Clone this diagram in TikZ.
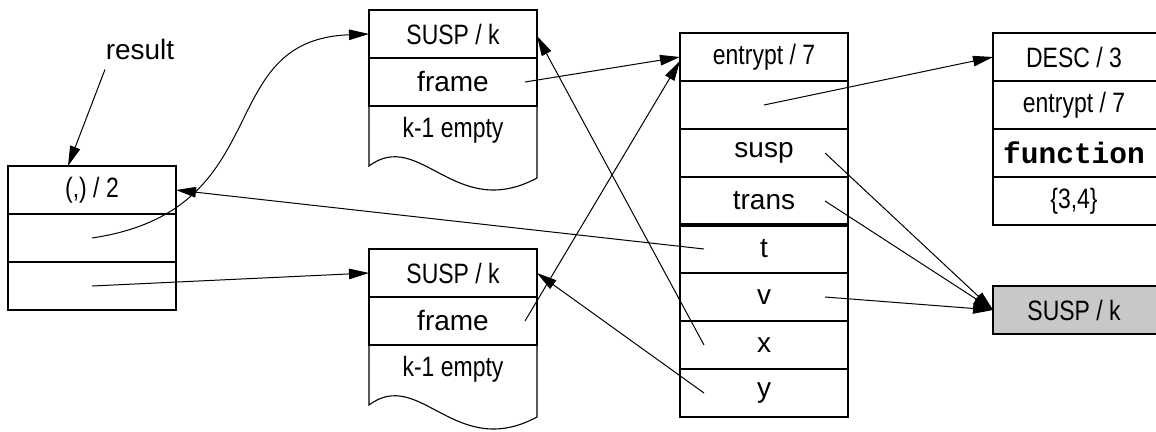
\documentclass[tikz,border=0pt]{standalone}
\usepackage{fontspec}
\setmainfont{Liberation Sans}
\newfontfamily\narrowfont[FakeStretch=0.82]{Liberation Sans}
\setmonofont{Liberation Mono}
\usetikzlibrary{arrows.meta}
\definecolor{boxgray}{RGB}{200,200,200}
\newcommand{\lsh}{\hspace*{-6pt}}
\begin{document}
\begin{tikzpicture}[x=1pt,y=-1pt,
  cell/.style={draw, line width=1.1pt, minimum width=168pt, minimum height=48pt, inner sep=0pt, outer sep=0pt, font=\fontsize{28}{30}\narrowfont},
  wide/.style={font=\fontsize{28}{30}\selectfont},
  txt/.style={inner sep=0pt, font=\fontsize{28}{30}\narrowfont},
  arr/.style={line width=1pt, -{Triangle[length=20pt,width=10.5pt]}}]
\useasboundingbox (0,0) rectangle (1156,431);
% left box
\node[cell] (L1) at (92,190) {(,) / 2};
\node[cell] (L2) at (92,238) {};
\node[cell] (L3) at (92,286) {};
\node[txt, wide] (res) at (140,49) {result};
% top SUSP
\node[cell] (S1a) at (453,34) {SUSP / k};
\node[cell, wide] (S1b) at (453,82) {frame};
\node[txt] (S1c) at (453,130) {k-1 empty};
\draw[line width=1.1pt] (S1b.south west) -- (369,166) .. controls (420,128) and (455,222) .. (537,178) -- (S1b.south east);
% bottom SUSP
\node[cell] (S2a) at (453,273) {SUSP / k};
\node[cell, wide] (S2b) at (453,321) {frame};
\node[txt] (S2c) at (453,369) {k-1 empty};
\draw[line width=1.1pt] (S2b.south west) -- (369,405) .. controls (420,367) and (455,461) .. (537,417) -- (S2b.south east);
% middle frame
\node[cell] (M1) at (764,57) {entrypt / 7};
\node[cell] (M2) at (764,105) {};
\node[cell, wide] (M3) at (764,153) {susp};
\node[cell, wide] (M4) at (764,201) {trans};
\node[cell, wide] (M5) at (764,249) {t};
\node[cell, wide] (M6) at (764,297) {v};
\node[cell, wide] (M7) at (764,345) {x};
\node[cell, wide] (M8) at (764,393) {y};
\draw[line width=3.5pt] (M4.south west) -- (M4.south east);
% DESC
\node[cell] (D1) at (1077,57) {\lsh DESC / 3};
\node[cell] (D2) at (1077,105) {\lsh entrypt / 7};
\node[cell, font=\fontsize{29.5}{31}\selectfont\ttfamily\bfseries] (D3) at (1077,153) {\lsh function};
\node[cell] (D4) at (1077,201) {\lsh\{3,4\}};
% gray susp
\node[cell, fill=boxgray] (G) at (1077,310) {\lsh SUSP / k};
% connectors
\draw[arr] ([xshift=-35pt,yshift=-10pt]res.south) -- ([xshift=-24pt]L1.north);
\draw[arr] (L2.center) .. controls (280,210) and (210,40) .. (S1a.west);
\draw[arr] (L3.center) -- (S2a.west);
\draw[arr] ([xshift=-60pt]M5.center) -- (L1.east);
\draw[arr] ([xshift=72pt]S1b.center) -- (M1.west);
\draw[arr] ([xshift=72pt]S2b.center) -- ([yshift=-4pt]M1.west);
\draw[arr] ([xshift=-60pt]M7.center) -- ([yshift=-2pt]S1a.east);
\draw[arr] ([xshift=-60pt]M8.center) -- (S2a.east);
\draw[arr] (M2.center) -- (D1.west);
\draw[arr] ([xshift=61pt]M3.center) -- (G.west);
\draw[arr] ([xshift=61pt]M4.center) -- (G.west);
\draw[arr] ([xshift=61pt]M6.center) -- (G.west);
\end{tikzpicture}
\end{document}
